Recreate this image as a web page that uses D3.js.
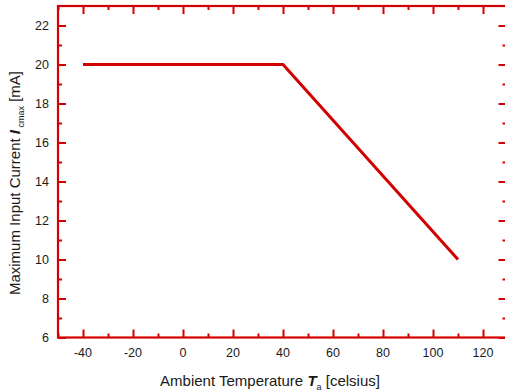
<!DOCTYPE html>
<html>
<head>
<meta charset="utf-8">
<script src="https://cdn.jsdelivr.net/npm/d3@7"></script>
<style>
  body { margin: 0; background: #fff; overflow: hidden; }
  svg text { font-family: "Liberation Sans", Arial, sans-serif; fill: #1a1a1a; }
</style>
</head>
<body>
<div id="chart"></div>
<script>
// data
var tempC = [-40, 40, 110];
var currentMA = [20, 20, 10];
var xTicks = [-40, -20, 0, 20, 40, 60, 80, 100, 120];
var yTicks = [6, 8, 10, 12, 14, 16, 18, 20, 22];

var width = 505, height = 392;
var red = "#d20000";
// right border sits just past the window edge, as in the original
var plotLeft = 58, plotRight = 506.5, plotTop = 6, plotBottom = 337.5;

var svg = d3.select("#chart").append("svg")
    .attr("width", width)
    .attr("height", height)
    .style("display", "block");

var x = d3.scaleLinear().domain([-50, 129.4]).range([plotLeft, plotRight]);
var y = d3.scaleLinear().domain([6, 23]).range([plotBottom, plotTop]);

var xMinor = d3.range(-50, 130, 10).filter(d => xTicks.indexOf(d) < 0);
var yMinor = d3.range(7, 23, 2);

function ticks(sel, axis, values, len) {
    sel.call(axis.tickValues(values).tickSize(len).tickFormat(""));
    sel.select(".domain").remove();
    sel.selectAll("line").attr("stroke", red).attr("stroke-width", 2);
}

// bottom & top (inward ticks)
ticks(svg.append("g").attr("transform", "translate(0," + plotBottom + ")"), d3.axisTop(x), xTicks, 8);
ticks(svg.append("g").attr("transform", "translate(0," + plotBottom + ")"), d3.axisTop(x), xMinor, 4);
ticks(svg.append("g").attr("transform", "translate(0," + plotTop + ")"), d3.axisBottom(x), xTicks, 8);
ticks(svg.append("g").attr("transform", "translate(0," + plotTop + ")"), d3.axisBottom(x), xMinor, 4);
// left & right
ticks(svg.append("g").attr("transform", "translate(" + plotLeft + ",0)"), d3.axisRight(y), yTicks, 8);
ticks(svg.append("g").attr("transform", "translate(" + plotLeft + ",0)"), d3.axisRight(y), yMinor, 4);
ticks(svg.append("g").attr("transform", "translate(" + plotRight + ",0)"), d3.axisLeft(y), yTicks, 8);
ticks(svg.append("g").attr("transform", "translate(" + plotRight + ",0)"), d3.axisLeft(y), yMinor, 4);

// frame
svg.append("rect")
    .attr("x", plotLeft).attr("y", plotTop)
    .attr("width", plotRight - plotLeft).attr("height", plotBottom - plotTop)
    .attr("fill", "none").attr("stroke", red).attr("stroke-width", 2.2);

// tick labels
svg.append("g").selectAll("text")
    .data(xTicks).join("text")
    .attr("x", d => x(d)).attr("y", 357)
    .attr("text-anchor", "middle").attr("font-size", 12.5)
    .text(d => d);

svg.append("g").selectAll("text")
    .data(yTicks).join("text")
    .attr("x", 49).attr("y", d => y(d) + 4.5)
    .attr("text-anchor", "end").attr("font-size", 12.5)
    .text(d => d);

// data line
var line = d3.line().x(d => x(d[0])).y(d => y(d[1]));
svg.append("path")
    .datum(d3.zip(tempC, currentMA))
    .attr("d", line)
    .attr("fill", "none")
    .attr("stroke", red)
    .attr("stroke-width", 3);

// axis titles
var xl = svg.append("text")
    .attr("x", 270).attr("y", 386)
    .attr("text-anchor", "middle").attr("font-size", 15);
xl.append("tspan").text("Ambient Temperature ");
xl.append("tspan").attr("font-weight", "bold").attr("font-style", "italic").text("T");
xl.append("tspan").attr("font-size", 9).attr("dy", 4).text("a");
xl.append("tspan").attr("dy", -4).text(" [celsius]");

var yl = svg.append("text")
    .attr("transform", "translate(20,183) rotate(-90)")
    .attr("text-anchor", "middle").attr("font-size", 15);
yl.append("tspan").text("Maximum Input Current ");
yl.append("tspan").attr("font-weight", "bold").attr("font-style", "italic").text("I");
yl.append("tspan").attr("font-size", 9).attr("dy", 4).text(" cmax");
yl.append("tspan").attr("dy", -4).text(" [mA]");
</script>
</body>
</html>
